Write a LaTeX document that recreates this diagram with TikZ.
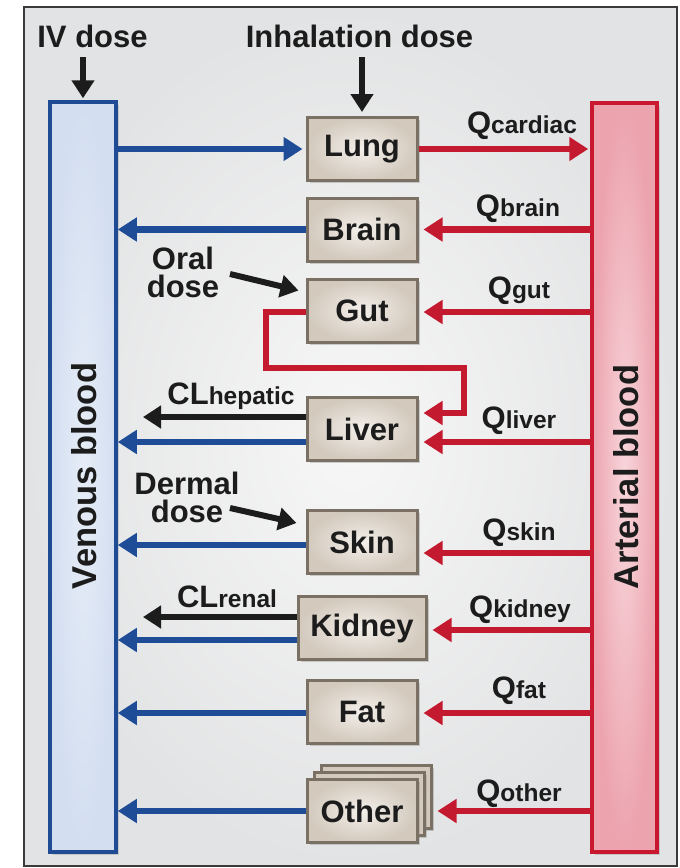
\documentclass[tikz,border=0pt]{standalone}
\usepackage{fontspec}
\setmainfont{Liberation Sans}
\usetikzlibrary{arrows.meta,shadows,calc}
\definecolor{frameline}{HTML}{3A3A3A}
\definecolor{bgout}{HTML}{E2E3E4}
\definecolor{bgin}{HTML}{F7F7F7}
\definecolor{orgline}{HTML}{7B7064}
\definecolor{orgout}{HTML}{D3C9BD}
\definecolor{orgin}{HTML}{F3EFEA}
\definecolor{venline}{HTML}{1F4A94}
\definecolor{venout}{HTML}{D3DEF0}
\definecolor{venin}{HTML}{E6EDF7}
\definecolor{artline}{HTML}{C8172E}
\definecolor{artout}{HTML}{ECA3AE}
\definecolor{artin}{HTML}{F8D6DB}
\definecolor{bluea}{HTML}{1F4C97}
\definecolor{reda}{HTML}{C41A30}
\definecolor{txt}{HTML}{1C1C1C}
\newcommand\Qlab[1]{{\fontsize{31}{31}\selectfont Q}{\fontsize{24.5}{24.5}\selectfont #1}}
\newcommand\CLlab[1]{{\fontsize{31}{31}\selectfont CL}{\fontsize{24.5}{24.5}\selectfont #1}}
\begin{document}
\begin{tikzpicture}[x=1pt,y=-1pt,
  big/.style={font=\fontsize{31}{30}\selectfont\bfseries, text=txt},
  bigger/.style={font=\fontsize{34.5}{34}\selectfont\bfseries, text=txt},
  lab/.style={big, anchor=base, inner sep=0pt},
  organ/.style={draw=orgline, line width=3pt, inner color=orgin, outer color=orgout,
    minimum width=110pt, minimum height=63pt, inner sep=0pt, big,
    drop shadow={shadow xshift=2.5pt, shadow yshift=-2.5pt, opacity=0.35}},
  bluearr/.style={draw=bluea, line width=6.5pt, -{Triangle[length=19pt,width=23pt]}},
  redarr/.style={draw=reda, line width=6.5pt, line join=miter, -{Triangle[length=19pt,width=23pt]}},
  blackarr/.style={draw=txt, line width=6pt, -{Triangle[length=18pt,width=22pt]}},
]
\useasboundingbox (0,0) rectangle (680,868);
% frame
\draw[frameline, line width=2.5pt, inner color=bgin, outer color=bgout] (24,7) rectangle (677,866);

% blood compartments
\node[draw=venline, line width=3.5pt, inner color=venin, outer color=venout,
  minimum width=66pt, minimum height=750pt, inner sep=0pt,
  drop shadow={shadow xshift=2.5pt, shadow yshift=-2.5pt, opacity=0.3}] (venous) at (83,477) {};
\node[bigger, rotate=90] (venlab) at (84,476) {Venous blood};
\node[draw=artline, line width=3.5pt, inner color=artin, outer color=artout,
  minimum width=65pt, minimum height=749pt, inner sep=0pt,
  drop shadow={shadow xshift=2.5pt, shadow yshift=-2.5pt, opacity=0.3}] (arterial) at (624.5,477.5) {};
\node[bigger, rotate=90] (artlab) at (626,477) {Arterial blood};

% organs
\node[organ] (lung) at (362,149) {Lung};
\node[organ] (brain) at (362,229.5) {Brain};
\node[organ] (gut) at (362,310.5) {Gut};
\node[organ] (liver) at (362,429) {Liver};
\node[organ] (skin) at (362,542) {Skin};
\node[organ, minimum width=128pt] (kidney) at (362,628) {Kidney};
\node[organ] (fat) at (362,711.5) {Fat};
\node[organ] (other3) at (376,797) {};
\node[organ] (other2) at (369,804) {};
\node[organ] (other) at (362,811) {Other};

% dose labels
\node[lab] (ivlab) at (92.5,47) {IV dose};
\node[lab] (inhlab) at (359.5,47) {Inhalation dose};
\node[lab] (orallab1) at (183,269) {Oral};
\node[lab] (orallab2) at (183,297) {dose};
\node[lab] (dermlab1) at (187,494) {Dermal};
\node[lab] (dermlab2) at (187,522) {dose};

% flow labels
\node[lab] (qcard) at (522,133) {\Qlab{cardiac}};
\node[lab] (qbrain) at (518,216) {\Qlab{brain}};
\node[lab] (qgut) at (519,298) {\Qlab{gut}};
\node[lab] (qliver) at (519,428) {\Qlab{liver}};
\node[lab] (qskin) at (519,540) {\Qlab{skin}};
\node[lab] (qkid) at (520,617) {\Qlab{kidney}};
\node[lab] (qfat) at (519,698) {\Qlab{fat}};
\node[lab] (qother) at (519,801) {\Qlab{other}};
\node[lab] (clhep) at (231,404) {\CLlab{hepatic}};
\node[lab] (clren) at (227,607) {\CLlab{renal}};

% coordinates
\coordinate (ivtop) at (83,57);
\coordinate (inhtop) at (362,57);
\coordinate (oralstart) at (230,274);
\coordinate (dermstart) at (230,508);
\coordinate (g1) at (266,368);
\coordinate (g2) at (464,413);
\coordinate (hepend) at (143,417);
\coordinate (renend) at (143,617);

% dose arrows
\draw[blackarr] (ivtop) -- ([yshift=2pt]venous.north);
\draw[blackarr] (inhtop) -- ([yshift=4pt]lung.north);
\draw[blackarr] (oralstart) -- ([xshift=-7pt,yshift=-13pt]gut.north west);
\draw[blackarr] (dermstart) -- ([xshift=-9pt,yshift=-14pt]skin.north west);

% lung
\draw[bluearr, shorten >=3pt] (venous.east |- lung) -- (lung.west);
\draw[redarr, shorten >=2pt] (lung.east) -- (arterial.west |- lung);

% brain
\draw[redarr, shorten >=5pt] (arterial.west |- brain) -- (brain.east);
\draw[bluearr] (brain.west) -- (venous.east |- brain);

% gut
\draw[redarr, shorten >=5pt] ([yshift=-1.5pt]arterial.west |- gut) -- ([yshift=-1.5pt]gut.east);
\draw[redarr, shorten >=5pt] ([yshift=-1.5pt]gut.west) -| (g1) -| (g2) -- (liver.east |- g2);

% liver
\draw[redarr, shorten >=5pt] ([yshift=-13pt]arterial.west |- liver) -- ([yshift=-13pt]liver.east);
\draw[bluearr] ([yshift=-13pt]liver.west) -- ([yshift=-13pt]venous.east |- liver);
\draw[blackarr] ([yshift=12pt]liver.west) -- (hepend);

% skin
\draw[redarr, shorten >=5pt] ([yshift=-11pt]arterial.west |- skin) -- ([yshift=-11pt]skin.east);
\draw[bluearr] ([yshift=-3pt]skin.west) -- ([yshift=-3pt]venous.east |- skin);

% kidney
\draw[redarr, shorten >=5pt] ([yshift=-2pt]arterial.west |- kidney) -- ([yshift=-2pt]kidney.east);
\draw[bluearr] ([yshift=-12pt]kidney.west) -- ([yshift=-12pt]venous.east |- kidney);
\draw[blackarr] ([yshift=11pt]kidney.west) -- (renend);

% fat
\draw[redarr, shorten >=5pt] ([yshift=-1.5pt]arterial.west |- fat) -- ([yshift=-1.5pt]fat.east);
\draw[bluearr] ([yshift=-1.5pt]fat.west) -- ([yshift=-1.5pt]venous.east |- fat);

% other
\draw[redarr, shorten >=5pt] (arterial.west |- other) -- (other.center -| other3.east);
\draw[bluearr] (other.west) -- (venous.east |- other);
\end{tikzpicture}
\end{document}
